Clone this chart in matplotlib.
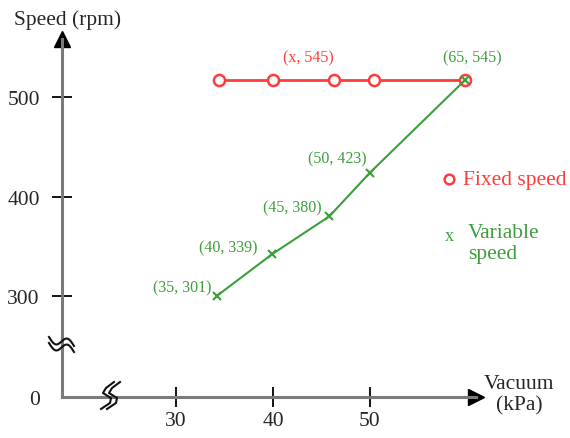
import numpy as np
import matplotlib
matplotlib.use("Agg")
import matplotlib.pyplot as plt

# ---- data ----
vac_fixed = [34.4, 40.0, 46.3, 50.4, 59.8]
speed_fixed = [517, 517, 517, 517, 517]
vac_var = [34.2, 39.9, 45.8, 50.0, 59.8]
speed_var = [300, 342, 380, 424, 517]
var_labels = ["(35, 301)", "(40, 339)", "(45, 380)", "(50, 423)", "(65, 545)"]
fixed_label = "(x, 545)"
x_ticks = [30, 40, 50]
y_ticks = [300, 400, 500]

RED = "#ff3c3c"
GREEN = "#3c9f3c"
W, H = 570, 439

plt.rcParams["font.family"] = ["Liberation Serif", "DejaVu Serif"]

fig = plt.figure(figsize=(W / 100, H / 100), dpi=100)

def fx(px):
    return px / W

def fy(py):
    return 1 - py / H

# axes frame: left spine at px 62, bottom spine at py 398
x_left, x_right = 62, 476
y_bot, y_top = 398, 40
ax = fig.add_axes([fx(x_left), fy(y_bot), (x_right - x_left) / W, (y_bot - y_top) / H])

def v_of_px(px):
    return 30 + (px - 176) / 9.7

def v_of_py(py):
    return 500 - (py - 98) / 0.995

ax.set_xlim(v_of_px(x_left), v_of_px(x_right))
ax.set_ylim(v_of_py(y_bot), v_of_py(y_top))

for s in ["top", "right"]:
    ax.spines[s].set_visible(False)
for s in ["left", "bottom"]:
    ax.spines[s].set_color("#7a7a7a")
    ax.spines[s].set_linewidth(2.2)

# arrow heads
ax.plot(0, 1, "^", color="black", ms=11, transform=ax.transAxes, clip_on=False)
ax.plot(1, 0, ">", color="black", ms=11, transform=ax.transAxes, clip_on=False)

ax.set_xticks(x_ticks)
ax.set_xticklabels([str(t) for t in x_ticks])
ybottom = ax.get_ylim()[0]
ax.set_yticks([ybottom] + y_ticks)
ax.set_yticklabels(["0"] + [str(t) for t in y_ticks])
ax.tick_params(axis="both", direction="inout", length=14, width=1.3, color="black",
               labelsize=15.5, labelcolor="#262626")
ax.tick_params(axis="y", pad=9)
ax.tick_params(axis="x", pad=3)
ax.yaxis.get_major_ticks()[0].tick1line.set_visible(False)

# series
ax.plot(vac_fixed, speed_fixed, "-o", color=RED, lw=2, ms=8, mfc="white", mec=RED,
        mew=1.8, clip_on=False, zorder=3)
ax.plot(vac_var, speed_var, "-x", color=GREEN, lw=1.5, ms=6, mew=1.5, clip_on=False,
        zorder=4)

# annotations (offsets in pixels -> points)
offs = [(-34, 9), (-44, 7), (-37, 9), (-33, 14), (7, 23)]
for xv, yv, lab, (dx, dy) in zip(vac_var, speed_var, var_labels, offs):
    ax.annotate(lab, (xv, yv), xytext=(dx * 0.72, dy * 0.72), textcoords="offset points",
                ha="center", va="center", color=GREEN, fontsize=11.5)
ax.annotate(fixed_label, (vac_fixed[2], speed_fixed[2]), xytext=(-26 * 0.72, 23 * 0.72),
            textcoords="offset points", ha="center", va="center", color=RED, fontsize=11.5)

# axis titles
fig.text(fx(14), fy(20), "Speed (rpm)", ha="left", va="center", fontsize=15.5, color="#262626")
fig.text(fx(519), fy(395), "Vacuum\n(kPa)", ha="center", va="center", fontsize=15.5,
         color="#262626", linespacing=1.15, multialignment="center")

# legend
fig.lines.append(plt.Line2D([fx(449)], [fy(180)], marker="o", ms=7, mfc="white", mec=RED,
                            mew=1.8, transform=fig.transFigure))
fig.text(fx(463), fy(181), "Fixed speed", ha="left", va="center", fontsize=15.5, color=RED)
fig.text(fx(449), fy(237), "x", ha="center", va="center", fontsize=13, color=GREEN)
fig.text(fx(468), fy(244), "Variable\nspeed", ha="left", va="center", fontsize=15.5,
         color=GREEN, linespacing=1.15)

# axis break marks (decoration, in pixel space)
t = np.linspace(0, 1, 40)
for off in (0, 6):
    bx = 49 + 25 * t
    by = 338 + 9 * t + 5 * np.sin(2 * np.pi * t) + off
    fig.lines.append(plt.Line2D(fx(bx), fy(by), color="#111111", lw=1.5,
                                transform=fig.transFigure))
for off in (0, 6):
    px = np.array([114, 106, 103, 111, 110, 101]) + off
    py = np.array([383, 389, 394, 399, 404, 410])
    fig.lines.append(plt.Line2D(fx(px), fy(py), color="#111111", lw=1.5,
                                transform=fig.transFigure))

fig.savefig("out.png", dpi=100)
